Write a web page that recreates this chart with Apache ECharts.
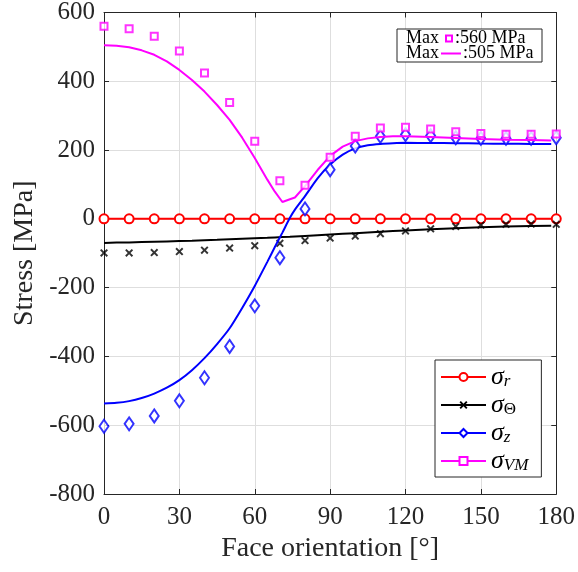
<!DOCTYPE html>
<html>
<head>
<meta charset="utf-8">
<script src="https://cdn.jsdelivr.net/npm/echarts@6/dist/echarts.min.js"></script>
<style>
  html, body { margin: 0; padding: 0; background: #fff; }
  #chart { width: 578px; height: 572px; }
</style>
</head>
<body>
<div id="chart"></div>
<script>
// Face orientation (deg) at which the stress components were sampled
const markAngles = [0, 10, 20, 30, 40, 50, 60, 70, 80, 90, 100, 110, 120, 130, 140, 150, 160, 170, 180];
// Sampled stresses [MPa]
const sigmaR     = [0, 0, 0, 0, 0, 0, 0, 0, 0, 0, 0, 0, 0, 0, 0, 0, 0, 0, 0];
const thetaMarks = [-99, -99, -98, -95, -91, -85, -78, -71, -63, -56, -50, -43, -35, -29, -22, -18, -16, -15, -16];
const zMarks     = [-603, -596, -573, -529, -462, -371, -253, -113, 29, 143, 212, 240, 245, 242, 236, 234, 234, 234, 236];
const vmMarks    = [560, 553, 531, 488, 424, 338, 226, 111, 98, 179, 240, 264, 266, 261, 253, 248, 246, 246, 247];

// Continuous (analytical) curves [MPa]
const curveAngles = [0, 5, 10, 15, 20, 25, 30, 35, 40, 45, 50, 55, 60, 65, 68, 71, 74, 76, 80, 85, 90, 95, 100, 105, 110, 115, 120, 130, 140, 150, 160, 170, 178];
const thetaCurve  = [-70, -69, -68.5, -67.5, -66.5, -65.5, -64.5, -63.5, -62, -61, -59.5, -58, -56.5, -55, -54, -53, -52, -51, -49.5, -47.5, -45.5, -43.5, -41.5, -39.5, -37.5, -35.5, -33.5, -30, -27, -24.5, -22.5, -21, -20];
const zCurve      = [-537, -535, -530, -521, -508, -491, -469, -440, -405, -364, -318, -259, -195, -125, -82, -40, 3, 27, 66, 118, 158, 187, 205, 214, 218, 220, 221, 220.5, 220, 219, 218.5, 218, 217.5];
const vmCurve     = [505, 503, 499, 490, 477, 458, 433, 404, 370, 331, 288, 236, 177, 114, 79, 49, 57, 62, 95, 142, 183, 210, 226, 234, 238, 240, 240, 238, 235, 232, 230, 229, 228];

// Axis ticks
const xTicks = { min: 0, max: 180, step: 30 };
const yTicks = { min: -800, max: 600, step: 200 };

const SERIF = '"Liberation Serif", "Times New Roman", serif';
const AXIS = '#262626';
const RED = '#ff0000', BLACK = '#000000', BLUE = '#0000ff', MAGENTA = '#ff00ff';
const CROSS = 'path://M0,1.7L1.7,0L5,3.3L8.3,0L10,1.7L6.7,5L10,8.3L8.3,10L5,6.7L1.7,10L0,8.3L3.3,5Z';

const pairs = (xs, ys) => xs.map((x, i) => [x, ys[i]]);

const baseAxis = {
  type: 'value',
  axisLine: { show: true, onZero: false, lineStyle: { color: AXIS, width: 1 } },
  axisTick: { show: true, inside: true, length: 5, lineStyle: { color: AXIS, width: 1 } }
};

const xMain = Object.assign({}, baseAxis, {
  min: xTicks.min, max: xTicks.max, interval: xTicks.step, position: 'bottom',
  axisLabel: { color: AXIS, fontFamily: SERIF, fontSize: 25, margin: 11 },
  splitLine: { show: true, lineStyle: { color: '#dedede', width: 1 } },
  name: 'Face orientation [°]', nameLocation: 'middle', nameGap: 40,
  nameTextStyle: { color: AXIS, fontFamily: SERIF, fontSize: 28 }
});
const xTop = Object.assign({}, baseAxis, {
  min: xTicks.min, max: xTicks.max, interval: xTicks.step, position: 'top',
  axisLabel: { show: false }, splitLine: { show: false }
});
const yMain = Object.assign({}, baseAxis, {
  min: yTicks.min, max: yTicks.max, interval: yTicks.step, position: 'left',
  axisLabel: { color: AXIS, fontFamily: SERIF, fontSize: 25, margin: 9 },
  splitLine: { show: true, lineStyle: { color: '#dedede', width: 1 } },
  name: 'Stress [MPa]', nameLocation: 'middle', nameGap: 59,
  nameTextStyle: { color: AXIS, fontFamily: SERIF, fontSize: 28 }
});
const yRight = Object.assign({}, baseAxis, {
  min: yTicks.min, max: yTicks.max, interval: yTicks.step, position: 'right',
  axisLabel: { show: false }, splitLine: { show: false }
});

const hollow = (c) => ({ color: '#fff', borderColor: c, borderWidth: 2 });

const series = [
  {
    name: 'σr', type: 'line', data: pairs(markAngles, sigmaR),
    symbol: 'circle', symbolSize: 9, showSymbol: true,
    lineStyle: { color: RED, width: 2 }, itemStyle: hollow(RED), z: 2
  },
  {
    name: 'σΘ', type: 'line', data: pairs(curveAngles, thetaCurve),
    symbol: CROSS, showSymbol: false,
    lineStyle: { color: BLACK, width: 2 }, itemStyle: { color: BLACK }, z: 3
  },
  {
    name: 'σΘ', type: 'scatter', data: pairs(markAngles, thetaMarks),
    symbol: CROSS, symbolSize: 8, itemStyle: { color: BLACK }, z: 3
  },
  {
    name: 'σz', type: 'line', data: pairs(curveAngles, zCurve),
    symbol: 'diamond', showSymbol: false, smooth: 0.25,
    lineStyle: { color: BLUE, width: 2 }, itemStyle: hollow(BLUE), z: 4
  },
  {
    name: 'σz', type: 'scatter', data: pairs(markAngles, zMarks),
    symbol: 'diamond', symbolSize: [9, 13], itemStyle: hollow(BLUE), z: 4
  },
  {
    name: 'σVM', type: 'line', data: pairs(curveAngles, vmCurve),
    symbol: 'rect', showSymbol: false,
    lineStyle: { color: MAGENTA, width: 2 }, itemStyle: hollow(MAGENTA), z: 5
  },
  {
    name: 'σVM', type: 'scatter', data: pairs(markAngles, vmMarks),
    symbol: 'rect', symbolSize: 7, itemStyle: hollow(MAGENTA), z: 5
  }
];

const subs = { 'σr': '{i|r}', 'σΘ': '{u|Θ}', 'σz': '{i|z}', 'σVM': '{i|VM}' };
const legendFont = { fontFamily: SERIF, color: BLACK };

const maxMark = Math.max.apply(null, vmMarks);
const maxCurve = Math.max.apply(null, vmCurve);
const boxFont = '18px ' + SERIF;

const option = {
  animation: false,
  backgroundColor: '#fff',
  grid: { left: 104, right: 21, top: 10, bottom: 78 },
  xAxis: [xMain, xTop],
  yAxis: [yMain, yRight],
  series: series,
  legend: {
    data: ['σr', 'σΘ', 'σz', 'σVM'],
    orient: 'vertical', left: 435, top: 360,
    itemWidth: 45, itemHeight: 10, itemGap: 2,
    padding: [4, 13, 3, 5],
    backgroundColor: '#fff', borderColor: AXIS, borderWidth: 1, borderRadius: 0,
    selectedMode: false,
    formatter: (name) => '{s|σ}' + subs[name],
    textStyle: {
      rich: {
        s: Object.assign({ fontSize: 26, fontStyle: 'italic', lineHeight: 26, verticalAlign: 'middle' }, legendFont),
        i: Object.assign({ fontSize: 17, fontStyle: 'italic', lineHeight: 12, verticalAlign: 'bottom' }, legendFont),
        u: Object.assign({ fontSize: 17, lineHeight: 12, verticalAlign: 'bottom' }, legendFont)
      }
    }
  },
  graphic: [
    { type: 'rect', z: 50, shape: { x: 397, y: 29, width: 145, height: 33 },
      style: { fill: '#fff', stroke: AXIS, lineWidth: 1 } },
    { type: 'text', z: 51, x: 406, y: 38.5,
      style: { text: 'Max', font: boxFont, fill: BLACK, verticalAlign: 'middle' } },
    { type: 'rect', z: 51, shape: { x: 446, y: 35.5, width: 6, height: 6 },
      style: { fill: '#fff', stroke: MAGENTA, lineWidth: 2 } },
    { type: 'text', z: 51, x: 455, y: 38.5,
      style: { text: ':' + maxMark + ' MPa', font: boxFont, fill: BLACK, verticalAlign: 'middle' } },
    { type: 'text', z: 51, x: 406, y: 53.5,
      style: { text: 'Max', font: boxFont, fill: BLACK, verticalAlign: 'middle' } },
    { type: 'line', z: 51, shape: { x1: 441, y1: 53.5, x2: 461, y2: 53.5 },
      style: { stroke: MAGENTA, lineWidth: 2 } },
    { type: 'text', z: 51, x: 463, y: 53.5,
      style: { text: ':' + maxCurve + ' MPa', font: boxFont, fill: BLACK, verticalAlign: 'middle' } }
  ]
};

const chart = echarts.init(document.getElementById('chart'), null, { renderer: 'canvas' });
chart.setOption(option);
</script>
</body>
</html>
